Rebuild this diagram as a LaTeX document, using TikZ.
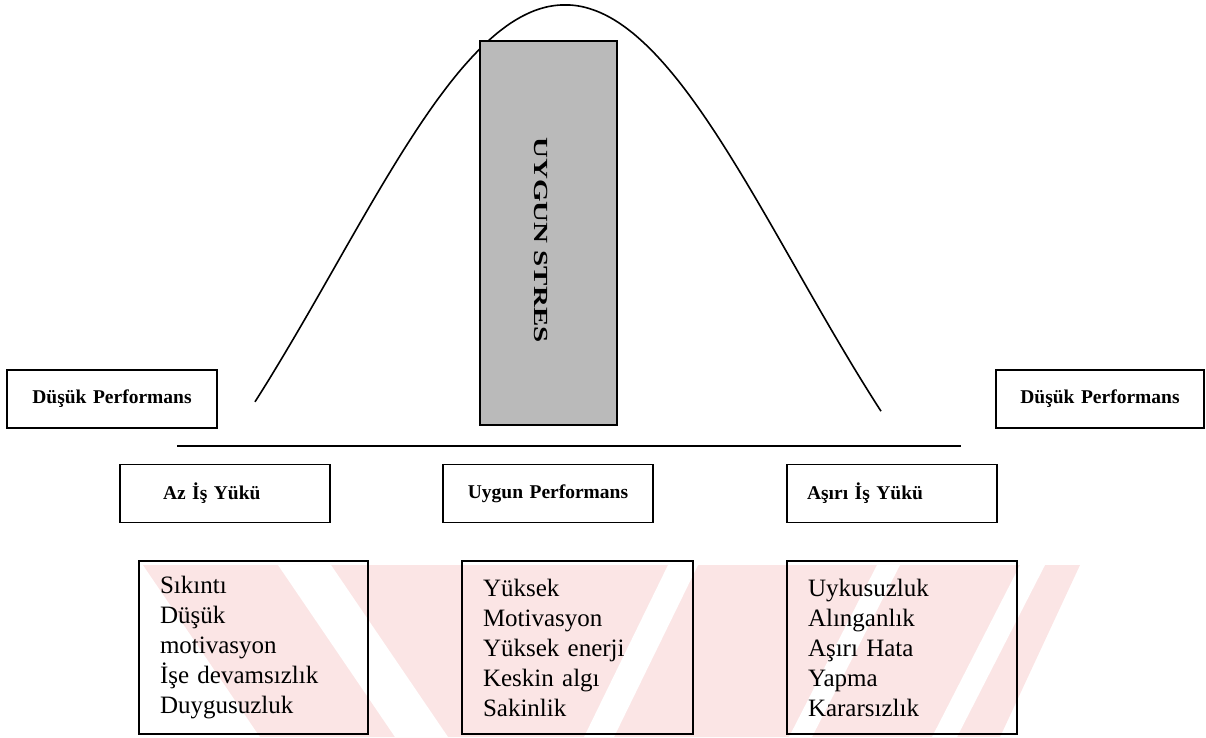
\documentclass[tikz,border=0pt]{standalone}
\usepackage{fontspec}
\setmainfont{Liberation Serif}
\definecolor{wmpink}{RGB}{251,229,229}
\definecolor{barfill}{RGB}{186,186,186}
\begin{document}
\begin{tikzpicture}[x=1pt,y=-1pt,
  frame/.style={draw=black, line width=1.5pt, inner ysep=0pt},
  headbox/.style={frame, font=\fontsize{19.5}{23}\selectfont\bfseries, minimum height=58pt},
  listbox/.style={frame, font=\fontsize{25}{30}\selectfont, align=left, minimum height=173pt, inner xsep=21pt},
  bellcurve/.style={line width=1.6pt},
  baseline/.style={line width=1.6pt}]
\useasboundingbox (0,0) rectangle (1206,737);

% pale striped background band behind the lower boxes
\fill[wmpink] (143,565) -- (1080,565) -- (1000,737) -- (260,737) -- cycle;
\fill[white] (278,565) -- (331,565) -- (448,737) -- (395,737) -- cycle;
\fill[white] (668,565) -- (698,565) -- (614,737) -- (584,737) -- cycle;
\fill[white] (877,565) -- (900,565) -- (812,737) -- (789,737) -- cycle;
\fill[white] (1020,565) -- (1045,565) -- (957,737) -- (932,737) -- cycle;

% performance curve
\draw[bellcurve] plot[domain=-310:316, samples=140, smooth]
  ({565+\x}, {5+665*(1-exp(-0.5*(\x/230)*(\x/230)))});

% optimal stress band
\node[frame, fill=barfill, minimum width=137pt, minimum height=384pt, inner sep=0pt] (bar) at (548.5,233) {};
\node[font=\fontsize{20}{24}\selectfont\bfseries, rotate=-90, inner sep=0pt] (stres) at (541,240)
  {\scalebox{1.45}[1]{UYGUN STRES}};

% low performance labels at both ends
\node[headbox, text width=190pt, inner xsep=10pt, align=center] (lowL) at (112,399) {Düşük Performans};
\node[headbox, text width=188pt, inner xsep=10pt, align=center] (lowR) at (1100,399) {Düşük Performans};

% horizontal axis
\coordinate (axisL) at (177,446);
\coordinate (axisR) at (961,446);
\draw[baseline] (axisL) -- (axisR);

% workload categories
\node[headbox, text width=124pt, inner xsep=43pt, align=left] (az) at (225,493.5) {Az İş Yükü};
\node[headbox, text width=190pt, inner xsep=10pt, align=center] (uygun) at (548,493.5) {Uygun Performans};
\node[headbox, text width=170pt, inner xsep=20pt, align=left] (asiri) at (892,493.5) {Aşırı İş Yükü};

% symptom lists
\node[listbox, text width=187pt] (azlist) at (253.5,647.5)
  {Sıkıntı\\Düşük\\motivasyon\\İşe devamsızlık\\Duygusuzluk};
\node[listbox, text width=189pt] (uygunlist) at (577.5,647.5)
  {Yüksek\\Motivasyon\\Yüksek enerji\\Keskin algı\\Sakinlik};
\node[listbox, text width=188pt] (asirilist) at (902,647.5)
  {Uykusuzluk\\Alınganlık\\Aşırı Hata\\Yapma\\Kararsızlık};
\end{tikzpicture}
\end{document}
